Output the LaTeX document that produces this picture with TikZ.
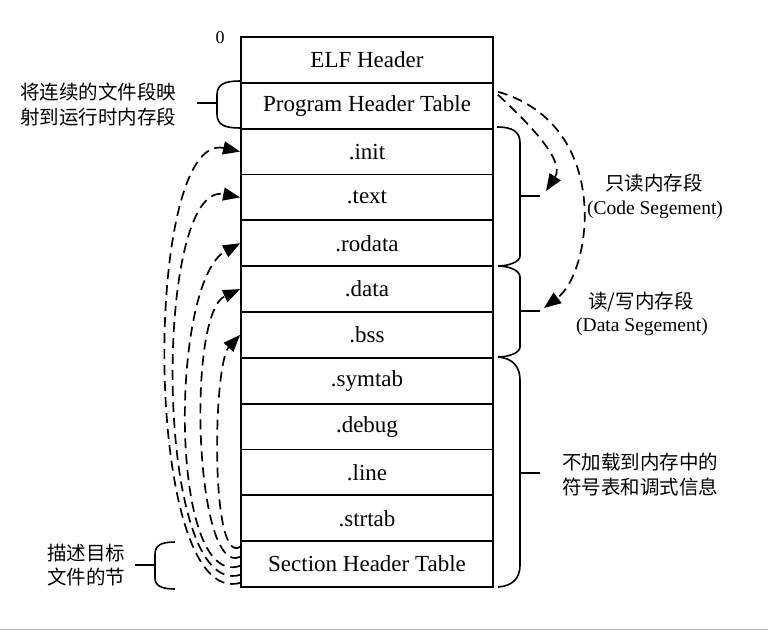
\documentclass[tikz,border=0pt]{standalone}
\usepackage{fontspec}
\setmainfont{Liberation Serif}
\newfontfamily\cjk{Noto Sans CJK SC}
\usetikzlibrary{arrows.meta,calc}
\begin{document}
\begin{tikzpicture}[x=1pt,y=-1pt,
  row/.style={draw, line width=1.8pt, minimum width=252pt, minimum height=45.83pt, inner sep=0pt, font=\fontsize{23}{23}\selectfont},
  cn/.style={font=\cjk\fontsize{19.5}{25}\selectfont, inner sep=0pt},
  en/.style={font=\fontsize{19.5}{25}\selectfont, inner sep=0pt},
  brc/.style={line width=1.6pt},
  dsh/.style={line width=1.7pt, dash pattern=on 10pt off 6pt, -{Triangle[length=17pt,width=13pt]}}]
\useasboundingbox (0,0) rectangle (768,630);
\fill[white] (0,0) rectangle (768,630);
\draw[black!28, line width=1pt] (0,629.5) -- (768,629.5);

% rows
\foreach \n/\t [count=\i from 0] in {elf/ELF Header, pht/Program Header Table, init/.init, text/.text, rodata/.rodata, data/.data, bss/.bss, symtab/.symtab, debug/.debug, line/.line, strtab/.strtab, sht/Section Header Table}
  \node[row] (\n) at (367,{37+45.83*(\i+0.5)}) {\t};

\node[font=\fontsize{18}{18}\selectfont, inner sep=0pt] (zero) at (220,38) {0};

% left top bracket
\draw[brc] (240,81) .. controls (225,81) and (217,84) .. (217,95) -- (217,114) .. controls (217,125) and (225,128) .. (240,128);
\draw[brc] (197,103) -- (217,103);
\node[cn] (l1a) at (98,92) {将连续的文件段映};
\node[cn] (l1b) at (98,117) {射到运行时内存段};

% bottom left bracket
\draw[brc] (175,542) .. controls (162,542) and (155,545) .. (155,554) -- (155,578) .. controls (155,586) and (162,589) .. (175,589);
\draw[brc] (135,565) -- (155,565);
\node[cn] (l2a) at (86,553) {描述目标};
\node[cn] (l2b) at (86,577) {文件的节};

% right braces
\draw[brc] (497,127) .. controls (513,127) and (520,132) .. (520,143) -- (520,256) .. controls (520,262) and (508,266) .. (498,266);
\draw[brc] (498,266) .. controls (508,266) and (520,270) .. (520,277) -- (520,347) .. controls (520,353) and (508,357) .. (498,357);
\draw[brc] (498,357) .. controls (512,358) and (520,366) .. (520,380) -- (520,565) .. controls (520,579) and (512,586) .. (498,587);
\draw[brc] (520,196) -- (540,196);
\draw[brc] (520,311) -- (540,311);
\draw[brc] (520,473) -- (540,473);

\node[cn] (r1a) at (654,183) {只读内存段};
\node[en] (r1b) at (655,210) {(Code Segement)};
\node[cn] (r2a) at (641,302) {读/写内存段};
\node[en] (r2b) at (642,327) {(Data Segement)};
\node[cn] (r3a) at (640,462) {不加载到内存中的};
\node[cn] (r3b) at (640,487) {符号表和调式信息};

% left dashed arcs
\coordinate (s1) at ($(sht.south west)+(0,-5)$);
\coordinate (s2) at ($(sht.south west)+(0,-13)$);
\coordinate (s3) at ($(sht.south west)+(0,-22)$);
\coordinate (s4) at ($(sht.south west)+(0,-31)$);
\coordinate (s5) at ($(sht.south west)+(0,-41)$);
\draw[dsh] (s1) .. controls (142,610) and (142,130) .. (init.west);
\draw[dsh] (s2) .. controls (153,600) and (153,180) .. (text.west);
\draw[dsh] (s3) .. controls (168,590) and (170,281) .. (rodata.west);
\draw[dsh] (s4) .. controls (195,578) and (186,314) .. (data.west);
\draw[dsh] (s5) .. controls (210,566) and (213,364) .. (bss.west);

% right dashed arcs
\coordinate (q1) at ($(pht.east)+(4,-14)$);
\coordinate (q2) at ($(pht.east)+(4,-11)$);
\coordinate (codeArr) at (546,191);
\coordinate (dataArr) at (544,308);
\draw[dsh] (q1) .. controls (613,125) and (592,272) .. (dataArr);
\draw[dsh] (q2) .. controls (525,120) and (566,160) .. (codeArr);
\end{tikzpicture}
\end{document}
